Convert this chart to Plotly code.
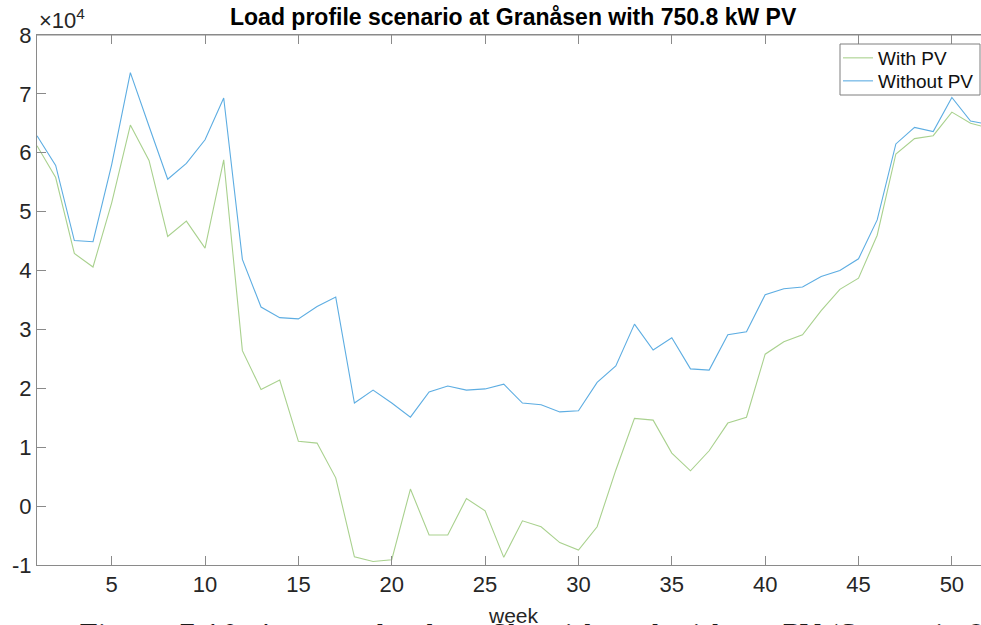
import plotly.graph_objects as go

# Weekly average load (kW) over one year, with and without the PV plant
weeks = list(range(1, 53))

with_pv = [
    61200, 55800, 42900, 40600, 51500, 64700, 58700, 45800, 48400, 43800,
    58800, 26400, 19800, 21400, 11000, 10700, 4800, -8600, -9400, -9100,
    2900, -4900, -4900, 1300, -800, -8700, -2500, -3500, -6200, -7450,
    -3500, 6100, 14900, 14600, 9000, 6000, 9400, 14100, 15100, 25800,
    27900, 29100, 33200, 36800, 38700, 46000, 59800, 62400, 62900, 66900,
    65000, 64200,
]

without_pv = [
    62900, 57850, 45100, 44900, 58000, 73600, 64500, 55500, 58200, 62200,
    69300, 41900, 33800, 32000, 31800, 33900, 35500, 17500, 19700, 17500,
    15100, 19400, 20400, 19700, 19900, 20700, 17500, 17200, 16000, 16200,
    21000, 23800, 30900, 26500, 28600, 23300, 23100, 29100, 29600, 35900,
    36900, 37200, 39000, 40000, 42000, 48600, 61500, 64300, 63600, 69400,
    65400, 64800,
]

y_tick_vals = [-10000, 0, 10000, 20000, 30000, 40000, 50000, 60000, 70000, 80000]
y_tick_text = ["-1", "0", "1", "2", "3", "4", "5", "6", "7", "8"]
x_tick_vals = [5, 10, 15, 20, 25, 30, 35, 40, 45, 50]

title_text = "Load profile scenario at Granåsen with 750.8 kW PV"
caption_text = "Figure 7.10: Average load profile with and without PV (Scenario 2)"

GREEN = "#a9d18e"
BLUE = "#5dade2"
AXIS_GREY = "#8a8a8a"
TEXT = "#262626"
FONT = "Liberation Sans, Arial, Helvetica, sans-serif"

# Plot area in pixels: left 37, width 944, top 35, height 530
L, W, T, H = 37, 944, 35, 530


def px_x(px):
    return (px - L) / W


def px_y(py):
    return (T + H - py) / H


fig = go.Figure()
fig.add_trace(go.Scatter(x=weeks, y=with_pv, mode="lines", name="With PV",
                         line=dict(color=GREEN, width=1.1), legend="legend"))
fig.add_trace(go.Scatter(x=weeks, y=without_pv, mode="lines", name="Without PV",
                         line=dict(color=BLUE, width=1.1), legend="legend2"))

legend_common = dict(
    xanchor="left", yanchor="middle",
    bgcolor="rgba(0,0,0,0)", borderwidth=0,
    font=dict(family=FONT, size=19, color="#111111"),
    itemwidth=30,
)

fig.update_layout(
    width=981, height=625,
    margin=dict(l=L, r=0, t=T, b=625 - T - H),
    paper_bgcolor="white", plot_bgcolor="white",
    font=dict(family=FONT, color=TEXT, size=22),
    showlegend=True,
    legend=dict(x=px_x(838), y=px_y(58), **legend_common),
    legend2=dict(x=px_x(838), y=px_y(81), **legend_common),
)

fig.update_xaxes(
    range=[1, 51.56], tickvals=x_tick_vals,
    ticks="inside", ticklen=9, tickwidth=1, tickcolor=AXIS_GREY,
    showline=True, linecolor=AXIS_GREY, linewidth=1, mirror="ticks",
    showgrid=False, zeroline=False,
    tickfont=dict(size=22, color=TEXT),
)
fig.update_yaxes(
    range=[-10000, 80000], tickvals=y_tick_vals, ticktext=y_tick_text,
    ticks="inside", ticklen=9, tickwidth=1, tickcolor=AXIS_GREY,
    showline=True, linecolor=AXIS_GREY, linewidth=1, mirror=False,
    showgrid=False, zeroline=False,
    tickfont=dict(size=22, color=TEXT),
)

# Top border of the axes box
fig.add_shape(type="line", xref="paper", yref="paper", x0=0, x1=1, y0=1, y1=1,
              line=dict(color=AXIS_GREY, width=1))

# Opaque framed box behind the two legend entries
fig.add_shape(type="rect", xref="paper", yref="paper",
              x0=px_x(840), x1=px_x(980), y0=px_y(95), y1=px_y(44),
              line=dict(color="#7f7f7f", width=1), fillcolor="white", layer="above")

# Title and exponent label
fig.add_annotation(text="<b>" + title_text + "</b>", xref="paper", yref="paper",
                   x=px_x(513), y=1.0, xanchor="center", yanchor="bottom",
                   yshift=3, showarrow=False,
                   font=dict(family=FONT, size=23, color="#000000"))
fig.add_annotation(text="×10<sup>4</sup>", xref="paper", yref="paper",
                   x=0, y=1.0, xanchor="left", yanchor="bottom", yshift=0,
                   showarrow=False, font=dict(family=FONT, size=22, color=TEXT))

# Figure caption (runs past the bottom edge), then the axis label over it
fig.add_annotation(text=caption_text, xref="paper", yref="paper",
                   x=px_x(77), y=px_y(618), xanchor="left",
                   yanchor="top", showarrow=False,
                   font=dict(family="DejaVu Serif, serif", size=27, color="#1a1a1a"))
fig.add_annotation(text="week", xref="paper", yref="paper",
                   x=px_x(513), y=px_y(602), xanchor="center",
                   yanchor="top", showarrow=False,
                   font=dict(family=FONT, size=21, color=TEXT))

fig.write_html("out.html")
